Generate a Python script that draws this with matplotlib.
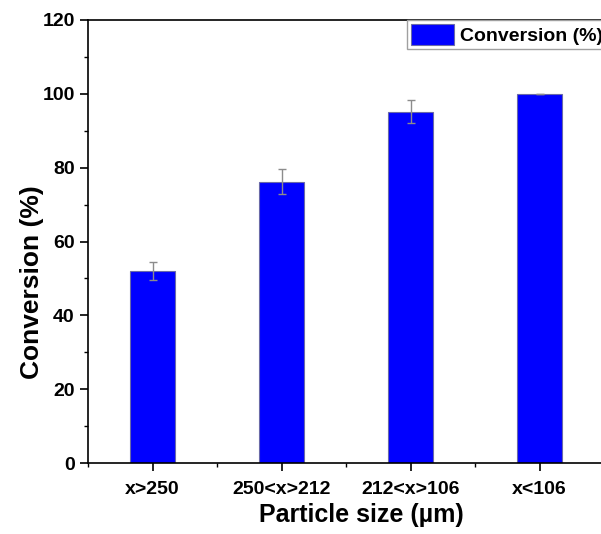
import numpy as np
import matplotlib
matplotlib.use('Agg')
import matplotlib.pyplot as plt
from matplotlib.ticker import MultipleLocator

plt.rcParams['font.family'] = ['Liberation Sans', 'DejaVu Sans']
plt.rcParams['font.weight'] = 'bold'

# Data
categories = ['x>250', '250<x>212', '212<x>106', 'x<106']
conversion = [52.0, 76.2, 95.2, 100.0]
conv_err = [2.4, 3.4, 3.0, 0.0]

fig = plt.figure(figsize=(6.01, 5.34), dpi=100)
ax = fig.add_axes([88 / 601, 1 - 463 / 534, 516 / 601, 443 / 534])

x = np.arange(1, len(categories) + 1)
ax.bar(x, conversion, width=0.35, color='#0000ff', edgecolor='#6a6aa8',
       linewidth=0.8, label='Conversion (%)', zorder=2)
ax.errorbar(x, conversion, yerr=conv_err, fmt='none', ecolor='#8c8c8c',
            elinewidth=1.0, capsize=3.2, capthick=1.0, zorder=3)

ax.set_xlim(0.5, 4.5)
ax.set_ylim(0, 120)
ax.set_xticks(x)
ax.set_xticklabels(categories)
ax.xaxis.set_minor_locator(MultipleLocator(0.5))
ax.yaxis.set_major_locator(MultipleLocator(20))
ax.yaxis.set_minor_locator(MultipleLocator(10))

ax.tick_params(axis='both', which='major', direction='out', length=6,
               width=1.2, labelsize=14)
ax.tick_params(axis='both', which='minor', direction='out', length=3,
               width=1.0)
ax.tick_params(axis='x', which='major', pad=7)
for lbl in ax.get_xticklabels() + ax.get_yticklabels():
    lbl.set_fontweight('bold')

for side in ['left', 'bottom', 'top']:
    ax.spines[side].set_linewidth(1.2)
ax.spines['right'].set_visible(False)

ax.set_xlabel('Particle size (µm)', fontsize=18, fontweight='bold')
ax.set_ylabel('Conversion (%)', fontsize=19, fontweight='bold')
ax.xaxis.set_label_coords((361 - 88) / 516, (463 - 503) / 443)
ax.yaxis.set_label_coords((44 - 88) / 516, (463 - 282) / 443)

leg = ax.legend(loc='upper left', bbox_to_anchor=(407 / 601, 1 - 20 / 534),
                bbox_transform=fig.transFigure, borderaxespad=0,
                prop={'weight': 'bold', 'size': 14},
                handlelength=2.2, handleheight=1.3, handletextpad=0.3,
                borderpad=0.2, fancybox=False, framealpha=1)
leg.get_frame().set_edgecolor('#a0a0a0')
leg.get_frame().set_linewidth(1.0)

fig.savefig('out.png', dpi=100)
